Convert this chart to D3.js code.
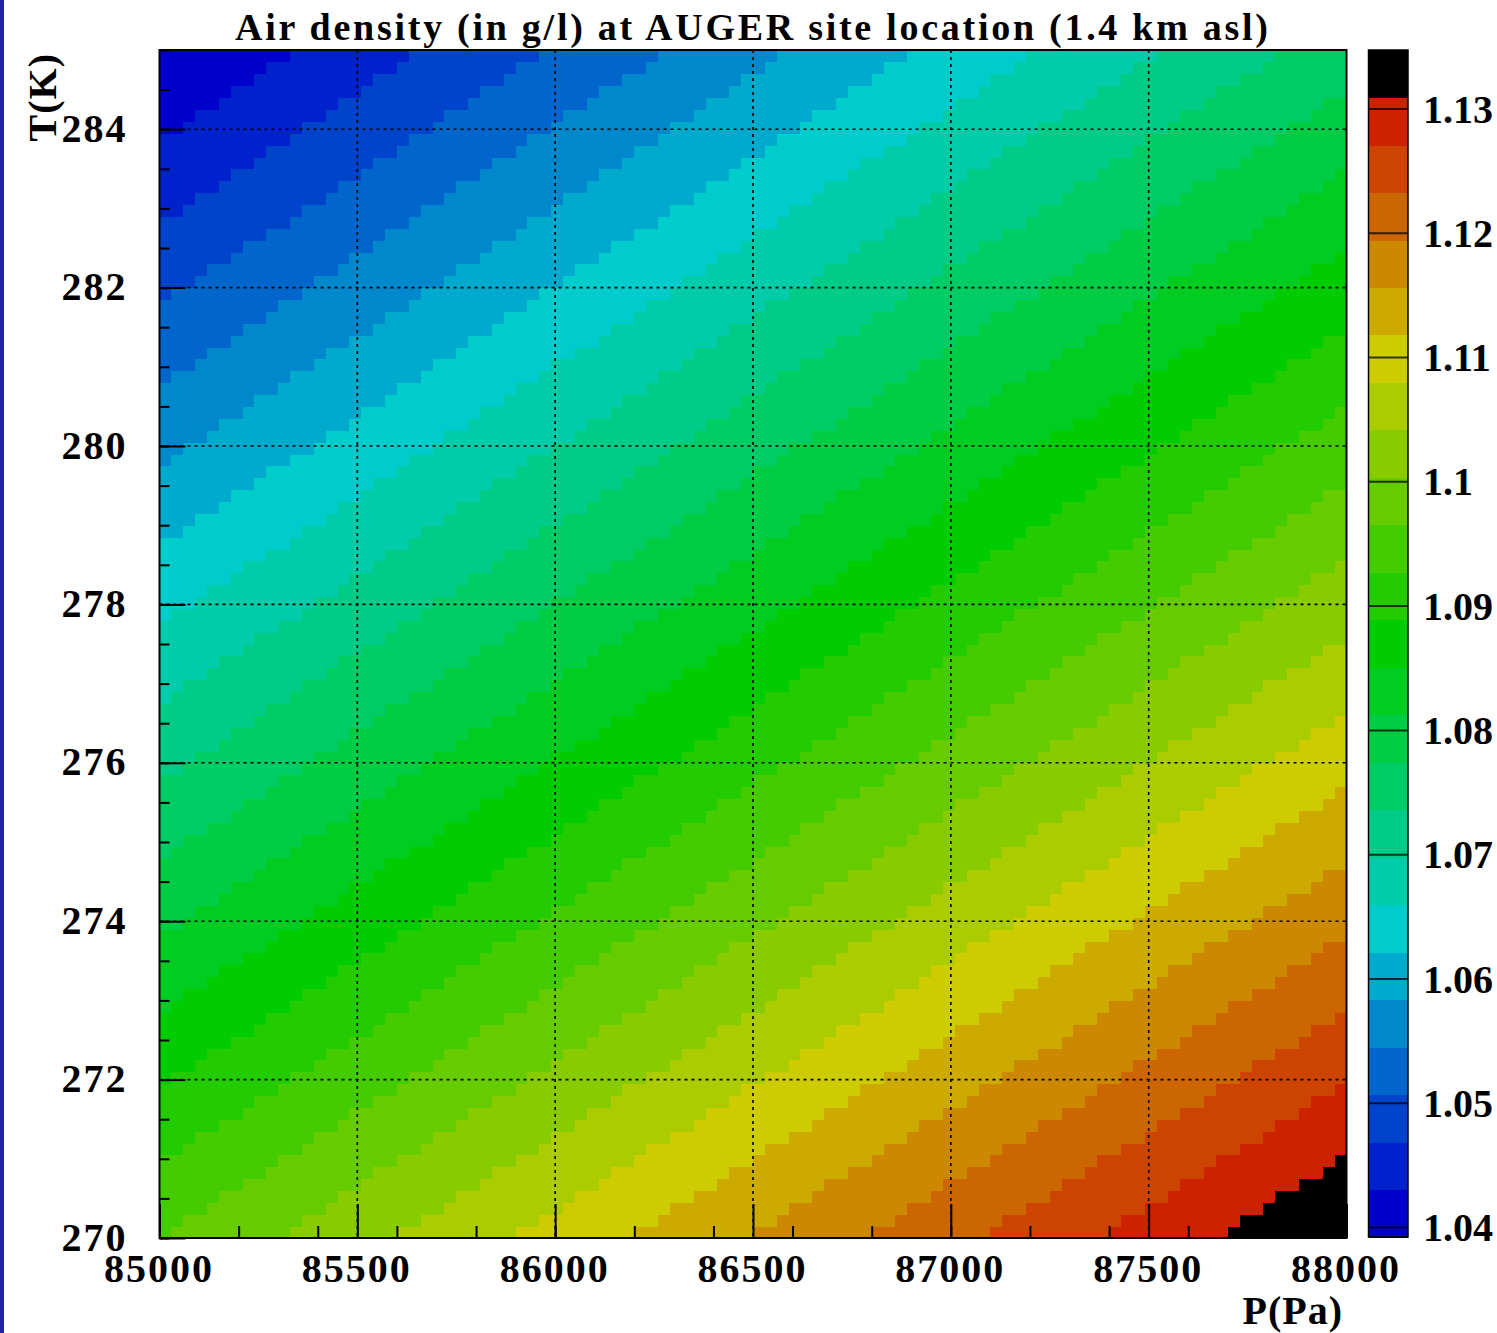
<!DOCTYPE html>
<html><head><meta charset="utf-8">
<script src="https://cdn.jsdelivr.net/npm/d3@7"></script>
<style>body{margin:0;background:#fff;} svg{display:block}</style>
</head><body>
<svg id="chart" width="1497" height="1333"></svg>
<script>
// ---------------- data ----------------
const pressureRange = [85000, 88000];      // P (Pa), 100 bins
const temperatureRange = [270, 285];       // T (K), 100 bins
const nPressureBins = 100;
const nTemperatureBins = 100;
const xTicks = [85000, 85500, 86000, 86500, 87000, 87500, 88000];
const xTickLabels = ["85000", "85500", "86000", "86500", "87000", "87500", "88000"];
const yTicks = [270, 272, 274, 276, 278, 280, 282, 284];
const yTickLabels = ["270", "272", "274", "276", "278", "280", "282", "284"];
const zRange = [1.0392, 1.1347];           // colour scale range (g/l), 25 bands
const zTicks = [1.04, 1.05, 1.06, 1.07, 1.08, 1.09, 1.10, 1.11, 1.12, 1.13];
const zTickLabels = ["1.04", "1.05", "1.06", "1.07", "1.08", "1.09", "1.1", "1.11", "1.12", "1.13"];
const bandColors = ["#0000cc","#0022cc","#0044cc","#0066cc","#0088cc","#00aacc","#00cccc",
  "#00ccaa","#00cc88","#00cc66","#00cc44","#00cc22","#00cc00","#22cc00","#44cc00","#66cc00",
  "#88cc00","#aacc00","#cccc00","#ccaa00","#cc8800","#cc6600","#cc4400","#cc2200","#000000"];
// colour band of the first pressure bin, per temperature row (bottom row T=270 first)
const rowStartBand = [14,14,14,14,14,14,14, 13,13,13,13,13,13, 12,12,12,12,12,12,
  11,11,11,11,11,11,11, 10,10,10,10,10,10, 9,9,9,9,9,9,9, 8,8,8,8,8,8,
  7,7,7,7,7,7,7, 6,6,6,6,6,6,6, 5,5,5,5,5,5, 4,4,4,4,4,4,4, 3,3,3,3,3,3,3,
  2,2,2,2,2,2,2, 1,1,1,1,1,1,1, 0,0,0,0,0,0,0];
// pressure-bin indices where the colour band steps up by one, per temperature row
const rowBandBreaks = [
 [1,11,20,30,40,50,60,70,80,90],[2,12,22,32,42,52,62,71,81,91],[4,14,24,34,43,53,63,73,83,93],
 [5,15,25,35,45,55,65,75,85,94],[7,17,27,37,47,56,66,76,86,96],[9,18,28,38,48,58,68,78,88,98],
 [10,20,30,40,50,60,70,79,89,99],[2,12,22,32,41,51,61,71,81,91],[3,13,23,33,43,53,63,73,83,93],
 [5,15,25,35,45,55,64,74,84,94],[7,16,26,36,46,56,66,76,86,96],[8,18,28,38,48,58,68,78,88,97],
 [10,20,30,39,49,59,69,79,89,99],[1,11,21,31,41,51,61,71,81,91],[3,13,23,33,43,53,63,72,82,92],
 [4,14,24,34,44,54,64,74,84,94],[6,16,26,36,46,56,66,76,86,96],[8,18,27,37,47,57,67,77,87,97],
 [9,19,29,39,49,59,69,79,89,99],[1,11,21,31,41,51,61,71,80,90],[2,12,22,32,42,52,62,72,82,92],
 [4,14,24,34,44,54,64,74,84,94],[5,15,25,35,45,55,65,75,85,95],[7,17,27,37,47,57,67,77,87,97],
 [9,19,28,38,48,58,68,78,88,98],[10,20,30,40,50,60,70,80,90],[2,12,22,32,42,52,62,72,82,92],
 [3,13,23,33,43,53,63,73,83,93],[5,15,25,35,45,55,65,75,85,95],[6,16,26,36,46,56,66,76,86,97],
 [8,18,28,38,48,58,68,78,88,98],[9,19,29,39,50,60,70,80,90],[1,11,21,31,41,51,61,71,81,91],
 [2,12,23,33,43,53,63,73,83,93],[4,14,24,34,44,54,64,74,84,94],[6,16,26,36,46,56,66,76,86,96],
 [7,17,27,37,47,57,67,78,88,98],[9,19,29,39,49,59,69,79,89,99],[10,20,30,40,50,61,71,81,91],
 [2,12,22,32,42,52,62,72,82,92],[3,13,23,33,44,54,64,74,84,94],[5,15,25,35,45,55,65,75,85,96],
 [6,16,26,37,47,57,67,77,87,97],[8,18,28,38,48,58,68,79,89,99],[9,19,30,40,50,60,70,80,90],
 [1,11,21,31,41,51,61,72,82,92],[2,12,23,33,43,53,63,73,83,93],[4,14,24,34,44,54,65,75,85,95],
 [5,15,26,36,46,56,66,76,86,97],[7,17,27,37,47,58,68,78,88,98],[8,19,29,39,49,59,69,79,90],
 [10,20,30,40,51,61,71,81,91],[1,12,22,32,42,52,62,72,83,93],[3,13,23,33,44,54,64,74,84,94],
 [4,15,25,35,45,55,65,76,86,96],[6,16,26,36,47,57,67,77,87,97],[7,18,28,38,48,58,69,79,89,99],
 [9,19,29,40,50,60,70,80,90],[11,21,31,41,51,61,72,82,92],[2,12,22,32,43,53,63,73,83,94],
 [3,14,24,34,44,54,65,75,85,95],[5,15,25,36,46,56,66,76,87,97],[6,17,27,37,47,57,68,78,88,98],
 [8,18,28,39,49,59,69,79,90],[9,20,30,40,50,61,71,81,91],[1,11,21,31,42,52,62,72,83,93],
 [2,13,23,33,43,53,64,74,84,94],[4,14,24,35,45,55,65,75,86,96],[5,16,26,36,46,57,67,77,87,98],
 [7,17,27,38,48,58,68,79,89,99],[8,19,29,39,49,60,70,80,90],[10,20,30,41,51,61,71,82,92],
 [1,11,22,32,42,52,63,73,83,94],[3,13,23,33,44,54,64,75,85,95],[4,14,25,35,45,56,66,76,86,97],
 [6,16,26,37,47,57,67,78,88,98],[7,18,28,38,48,59,69,79,89],[9,19,29,40,50,60,70,81,91],
 [10,21,31,41,51,62,72,82,93],[1,12,22,32,43,53,63,74,84,94],[3,13,24,34,44,55,65,75,85,96],
 [4,15,25,35,46,56,66,77,87,97],[6,16,27,37,47,58,68,78,89,99],[7,18,28,38,49,59,69,80,90],
 [9,19,30,40,50,61,71,81,92],[11,21,31,42,52,62,73,83,93],[2,12,22,33,43,53,64,74,84,95],
 [3,14,24,34,45,55,65,76,86,96],[5,15,25,36,46,56,67,77,87,98],[6,17,27,37,48,58,68,79,89,99],
 [8,18,28,39,49,59,70,80,91],[9,20,30,40,51,61,71,82,92],[11,21,31,42,52,63,73,83,94],
 [2,12,23,33,43,54,64,74,85,95],[3,14,24,34,45,55,66,76,86,97],[5,15,26,36,46,57,67,78,88,98],
 [6,17,27,37,48,58,69,79,89],[8,18,29,39,49,60,70,81,91],[9,20,30,41,51,61,72,82,93],
 [11,21,32,42,52,63,73,84,94]
];

// ---------------- drawing ----------------
const svg = d3.select("#chart");
const FONT = "'Liberation Serif','Times New Roman',serif";
const plot = {left: 159.5, right: 1346.5, top: 50, bottom: 1238};

svg.append("rect").attr("x", 0).attr("y", 0).attr("width", 1497).attr("height", 1333).attr("fill", "#fff");
svg.append("rect").attr("x", 0).attr("y", 0).attr("width", 4).attr("height", 1333).attr("fill", "#23239a");

const x = d3.scaleLinear().domain(pressureRange).range([plot.left, plot.right]);
const y = d3.scaleLinear().domain(temperatureRange).range([plot.bottom, plot.top]);

const dP = (pressureRange[1] - pressureRange[0]) / nPressureBins;
const dT = (temperatureRange[1] - temperatureRange[0]) / nTemperatureBins;

// expand each row into cells
const cells = [];
rowBandBreaks.forEach((breaks, j) => {
  let band = rowStartBand[j], ptr = 0;
  for (let i = 0; i < nPressureBins; i++) {
    while (ptr < breaks.length && breaks[ptr] <= i) { band++; ptr++; }
    cells.push({i, j, band});
  }
});

svg.append("g").attr("shape-rendering", "crispEdges")
  .selectAll("rect").data(cells).join("rect")
  .attr("x", d => x(pressureRange[0] + d.i * dP))
  .attr("y", d => y(temperatureRange[0] + (d.j + 1) * dT))
  .attr("width", d => x(pressureRange[0] + (d.i + 1) * dP) - x(pressureRange[0] + d.i * dP) + 0.6)
  .attr("height", d => y(temperatureRange[0] + d.j * dT) - y(temperatureRange[0] + (d.j + 1) * dT) + 0.6)
  .attr("fill", d => bandColors[d.band]);

// dotted grid
const grid = svg.append("g").attr("stroke", "#000").attr("stroke-width", 1.6)
  .attr("stroke-dasharray", "3,4").attr("fill", "none");
xTicks.slice(1, -1).forEach(v => grid.append("line")
  .attr("x1", x(v)).attr("x2", x(v)).attr("y1", plot.top).attr("y2", plot.bottom));
yTicks.slice(1).forEach(v => grid.append("line")
  .attr("x1", plot.left).attr("x2", plot.right).attr("y1", y(v)).attr("y2", y(v)));

// axes (ticks inward)
function styleAxis(g) {
  g.select(".domain").remove();
  g.selectAll("line").attr("stroke", "#000").attr("stroke-width", 2);
  g.selectAll("text").attr("font-family", FONT).attr("font-weight", "bold")
    .attr("font-size", 40).attr("fill", "#000");
}
svg.append("g").attr("transform", `translate(0,${plot.bottom})`)
  .call(d3.axisBottom(x).ticks(12).tickSize(-12).tickFormat(""))
  .call(styleAxis);
svg.append("g").attr("transform", `translate(0,${plot.bottom})`)
  .call(d3.axisBottom(x).tickValues(xTicks).tickSize(-34).tickPadding(16)
    .tickFormat((d, k) => xTickLabels[k]))
  .call(styleAxis)
  .call(g => g.selectAll("text").attr("letter-spacing", "2px").attr("dx", "-1"));
svg.append("g").attr("transform", `translate(0,${plot.bottom})`);
svg.append("g").attr("transform", `translate(${plot.left},0)`)
  .call(d3.axisLeft(y).ticks(30).tickSize(-10).tickFormat(""))
  .call(styleAxis);
svg.append("g").attr("transform", `translate(${plot.left},0)`)
  .call(d3.axisLeft(y).tickValues(yTicks).tickSize(-26).tickPadding(32)
    .tickFormat((d, k) => yTickLabels[k]))
  .call(styleAxis)
  .call(g => g.selectAll("text").attr("letter-spacing", "2px").attr("dy", "0.3em"));

// frame
svg.append("rect").attr("x", plot.left).attr("y", plot.top)
  .attr("width", plot.right - plot.left).attr("height", plot.bottom - plot.top)
  .attr("fill", "none").attr("stroke", "#000").attr("stroke-width", 2);

// colour bar
const cb = {left: 1368.5, right: 1408, top: 50, bottom: 1237};
const zScale = d3.scaleLinear().domain(zRange).range([cb.bottom, cb.top]);
const nBands = bandColors.length;
const dz = (zRange[1] - zRange[0]) / nBands;
svg.append("g").attr("shape-rendering", "crispEdges")
  .selectAll("rect").data(bandColors).join("rect")
  .attr("x", cb.left).attr("width", cb.right - cb.left)
  .attr("y", (c, k) => zScale(zRange[0] + (k + 1) * dz))
  .attr("height", (c, k) => zScale(zRange[0] + k * dz) - zScale(zRange[0] + (k + 1) * dz) + 0.6)
  .attr("fill", c => c);
svg.append("g").attr("transform", `translate(${cb.right},0)`)
  .call(d3.axisRight(zScale).tickValues(zTicks).tickSize(-(cb.right - cb.left)).tickPadding(15)
    .tickFormat((d, k) => zTickLabels[k]))
  .call(styleAxis)
  .call(g => g.selectAll("line").attr("stroke-opacity", 0.75))
  .call(g => g.selectAll("text").attr("dy", "0.34em"));
svg.append("rect").attr("x", cb.left).attr("y", cb.top)
  .attr("width", cb.right - cb.left).attr("height", cb.bottom - cb.top)
  .attr("fill", "none").attr("stroke", "#000").attr("stroke-width", 1.5);

// titles
svg.append("text").attr("x", 751.5).attr("y", 40).attr("text-anchor", "middle")
  .attr("font-family", FONT).attr("font-weight", "bold").attr("font-size", 38)
  .attr("textLength", 1033).attr("lengthAdjust", "spacing")
  .text("Air density (in g/l)  at AUGER site location (1.4 km asl)");
svg.append("text").attr("x", 1343).attr("y", 1324).attr("text-anchor", "end")
  .attr("font-family", FONT).attr("font-weight", "bold").attr("font-size", 40)
  .attr("letter-spacing", "1px")
  .text("P(Pa)");
svg.append("text").attr("transform", "translate(56,53) rotate(-90)").attr("text-anchor", "end")
  .attr("font-family", FONT).attr("font-weight", "bold").attr("font-size", 40)
  .attr("letter-spacing", "1px")
  .text("T(K)");
</script>
</body></html>
